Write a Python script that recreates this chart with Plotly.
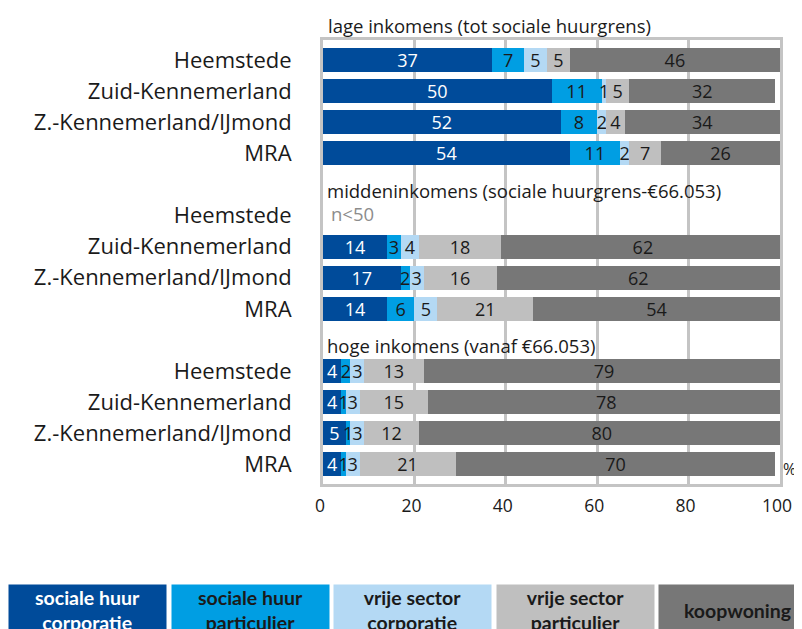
import plotly.graph_objects as go

# categories
regions = ["Heemstede", "Zuid-Kennemerland", "Z.-Kennemerland/IJmond", "MRA"]
groups = [
    "lage inkomens (tot sociale huurgrens)",
    "middeninkomens (sociale huurgrens-€66.053)",
    "hoge inkomens (vanaf €66.053)",
]
series = [
    "sociale huur<br>corporatie",
    "sociale huur<br>particulier",
    "vrije sector<br>corporatie",
    "vrije sector<br>particulier",
    "koopwoning",
]

# values per series, 3 groups x 4 regions (None = n<50)
soc_corp = [37, 50, 52, 54, None, 14, 17, 14, 4, 4, 5, 4]
soc_part = [7, 11, 8, 11, None, 3, 2, 6, 2, 1, 1, 1]
vrij_corp = [5, 1, 2, 2, None, 4, 3, 5, 3, 3, 3, 3]
vrij_part = [5, 5, 4, 7, None, 18, 16, 21, 13, 15, 12, 21]
koop = [46, 32, 34, 26, None, 62, 62, 54, 79, 78, 80, 70]
values = [soc_corp, soc_part, vrij_corp, vrij_part, koop]

colors = ["#004b9a", "#009ee3", "#b4d9f4", "#bfbfbf", "#777777"]
text_colors = ["white", "#1a1a1a", "#1a1a1a", "#1a1a1a", "#1a1a1a"]

FONT = "Open Sans"

# row index: each group gets a title row above its 4 regions
rows = [g * 5 + r for g in range(len(groups)) for r in range(len(regions))]
labels = [reg for g in groups for reg in regions]

fig = go.Figure()
for name, vals, col, tcol in zip(series, values, colors, text_colors):
    fig.add_trace(go.Bar(
        y=rows, x=vals, orientation="h", name=name.replace("<br>", " "),
        marker=dict(color=col, line=dict(width=0)),
        width=0.77,
        text=[("" if v is None else str(v)) for v in vals],
        textposition="inside", insidetextanchor="middle", textangle=0,
        insidetextfont=dict(color=tcol, size=18, family=FONT),
        showlegend=False,
    ))

# page has an 8px body margin, positions below are page pixels
OFF = 8
W, H = 802 - OFF, 629 - OFF
L, R, T = 323 - OFF, 22, 40 - OFF
B = H - (484 - OFF)
pw, ph = W - L - R, H - T - B

def px_y(py):
    # page pixel row (from top) -> paper y
    return (H - B - (py - OFF)) / ph

def px_x(px):
    return (px - OFF - L) / pw

annotations = []
title_y = [25, 190, 345]
title_x = [326, 325, 325]
for g, title in enumerate(groups):
    annotations.append(dict(
        text=title, x=px_x(title_x[g]), y=px_y(title_y[g]),
        xref="paper", yref="paper", xanchor="left", yanchor="middle",
        showarrow=False, font=dict(size=18.5, color="#1a1a1a", family=FONT),
    ))
annotations.append(dict(
    text="n<50", x=px_x(329), y=px_y(213), xref="paper", yref="paper",
    xanchor="left", yanchor="middle", showarrow=False,
    font=dict(size=18.5, color="#8c8c8c", family=FONT),
))
annotations.append(dict(
    text="%", x=px_x(781), y=px_y(469), xref="paper", yref="paper",
    xanchor="left", yanchor="middle", showarrow=False,
    font=dict(size=16, color="#1a1a1a", family=FONT),
))

# colored legend boxes below the chart
box_w = 160
for i, (name, col, tcol) in enumerate(zip(series, colors, text_colors)):
    left = 8 + i * 162.5
    annotations.append(dict(
        text="<b>" + name + "</b>", xref="paper", yref="paper",
        x=px_x(left), y=px_y(584),
        xanchor="left", yanchor="top", width=box_w - 3, height=50,
        align="center", valign="middle", bgcolor=col, borderpad=0,
        showarrow=False, font=dict(size=19.5, color=tcol, family="Lato"),
    ))

fig.update_layout(
    barmode="stack",
    width=W, height=H,
    margin=dict(l=L, r=R, t=T, b=B, autoexpand=False),
    paper_bgcolor="white", plot_bgcolor="white",
    font=dict(family=FONT, color="#1a1a1a"),
    uniformtext=dict(minsize=18, mode="show"),
    annotations=annotations,
    xaxis=dict(
        range=[0, 100], dtick=20, showgrid=True, gridcolor="#c4c4c4",
        gridwidth=3, zeroline=False, showline=True, mirror=True,
        linecolor="#c4c4c4", linewidth=3, ticks="", automargin=False,
        ticklabelstandoff=4, ticklabelshift=-3,
        tickfont=dict(size=17.5, color="#1a1a1a"),
    ),
    yaxis=dict(
        range=[13.63, -0.64], tickvals=rows, ticktext=labels,
        showgrid=False, zeroline=False, showline=True, mirror=True,
        linecolor="#c4c4c4", linewidth=3, ticks="", automargin=False,
        ticklabelstandoff=24, tickfont=dict(size=22, color="#1a1a1a"),
    ),
)

fig.write_html("out.html")
